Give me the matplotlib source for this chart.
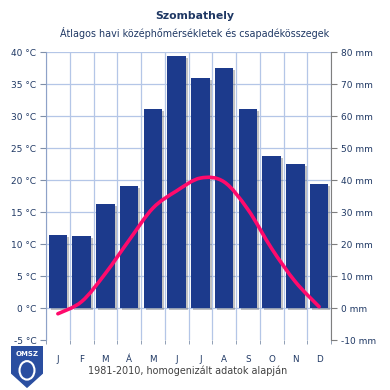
import matplotlib.pyplot as plt
import matplotlib.patheffects as pe
from matplotlib.path import Path
from matplotlib.patches import PathPatch, Polygon
import numpy as np

months = ['J', 'F', 'M', 'Á', 'M', 'J', 'J', 'A', 'S', 'O', 'N', 'D']
precip_mm = [22.8, 22.5, 32.6, 38.2, 62.1, 78.7, 71.8, 74.9, 62.1, 47.6, 45.1, 38.7]
temp_c = [-0.9, 1.0, 5.4, 10.6, 15.6, 18.3, 20.3, 19.7, 15.4, 9.3, 4.1, 0.2]
temp_ticks = list(range(-5, 41, 5))
mm_ticks = list(range(-10, 81, 10))

navy = '#1f3864'
bar_col = '#1c3a8c'
line_col = '#ff0a6c'
grid_col = '#b4c6e7'

fig = plt.figure(figsize=(3.9, 3.9), dpi=100)
ax = fig.add_axes([46 / 390, 1 - 340 / 390, 285 / 390, 288 / 390])
ax2 = ax.twinx()

x = np.arange(len(months))

# precipitation bars (right axis)
bars = ax.bar(x, precip_mm, width=0.78, color=bar_col, zorder=3)
for b in bars:
    b.set_path_effects([pe.SimplePatchShadow(offset=(1.5, -1.5), shadow_rgbFace='#555555', alpha=0.35), pe.Normal()])
ax.set_ylim(-10, 80)
ax.set_xlim(-0.5, 11.5)
ax.yaxis.tick_right()
ax.set_yticks(mm_ticks)
ax.set_yticklabels([f'{v} mm' for v in mm_ticks])
ax.set_xticks(x)
ax.set_xticklabels(months)
ax.set_xticks(np.arange(-0.5, 12, 1), minor=True)
ax.tick_params(axis='x', which='major', length=0, pad=11, labelsize=6.3, labelcolor=navy)
ax.tick_params(axis='x', which='minor', length=3, color='#7f8fa9', direction='out')
ax.tick_params(axis='y', length=4, color='#7f7f7f', labelsize=6.5, labelcolor=navy, pad=3)
ax.grid(True, axis='x', which='minor', color=grid_col, lw=0.9, zorder=0)
for t in temp_ticks[1:]:
    ax.axhline((t + 5) * 2 - 10, color=grid_col, lw=0.9, zorder=0)
ax.spines['top'].set_visible(False)
ax.spines['bottom'].set_visible(False)
ax.spines['left'].set_visible(False)
ax.spines['right'].set_color('#7f7f7f')

# temperature line (left axis), smoothed with bezier segments
ax2.set_ylim(-5, 40)
ax2.yaxis.tick_left()
ax2.set_yticks(temp_ticks)
ax2.set_yticklabels([f'{v} °C' for v in temp_ticks])
ax2.tick_params(axis='y', length=4, color='#7f8fa9', labelsize=6.5, labelcolor=navy, pad=3)
for s in ['top', 'bottom', 'right']:
    ax2.spines[s].set_visible(False)
ax2.spines['left'].set_color('#8ea2c8')

pts = np.column_stack([x, temp_c])
verts = [pts[0]]
codes = [Path.MOVETO]
for i in range(len(pts) - 1):
    p0 = pts[i - 1] if i > 0 else pts[i]
    p3 = pts[i + 2] if i + 2 < len(pts) else pts[i + 1]
    c1 = pts[i] + (pts[i + 1] - p0) / 6
    c2 = pts[i + 1] - (p3 - pts[i]) / 6
    verts += [c1, c2, pts[i + 1]]
    codes += [Path.CURVE4] * 3
ax2.add_patch(PathPatch(Path(verts, codes), fill=False, edgecolor=line_col, lw=2.6, capstyle='round', zorder=5))

# titles
fig.text(0.5, 1 - 16 / 390, 'Szombathely', ha='center', va='center', fontsize=7.8, fontweight='bold', color=navy)
fig.text(0.5, 1 - 33 / 390, 'Átlagos havi középhőmérsékletek és csapadékösszegek', ha='center', va='center', fontsize=6.9, color=navy)
fig.text(188 / 390, 1 - 371 / 390, '1981-2010, homogenizált adatok alapján', ha='center', va='center', fontsize=6.9, color='#404040')

# OMSZ logo
lax = fig.add_axes([10 / 390, 1 - 388 / 390, 34 / 390, 42 / 390])
lax.set_xlim(0, 1)
lax.set_ylim(0, 1)
lax.axis('off')
lax.add_patch(Polygon([(0.05, 1), (0.95, 1), (0.95, 0.35), (0.5, 0.02), (0.05, 0.35)], closed=True, color='#2a4ea0'))
lax.text(0.5, 0.82, 'OMSZ', ha='center', va='center', fontsize=5, fontweight='bold', color='white')
lax.add_patch(plt.Circle((0.5, 0.42), 0.22, fill=False, ec='white', lw=1.5))

fig.savefig('out.png', dpi=100)
